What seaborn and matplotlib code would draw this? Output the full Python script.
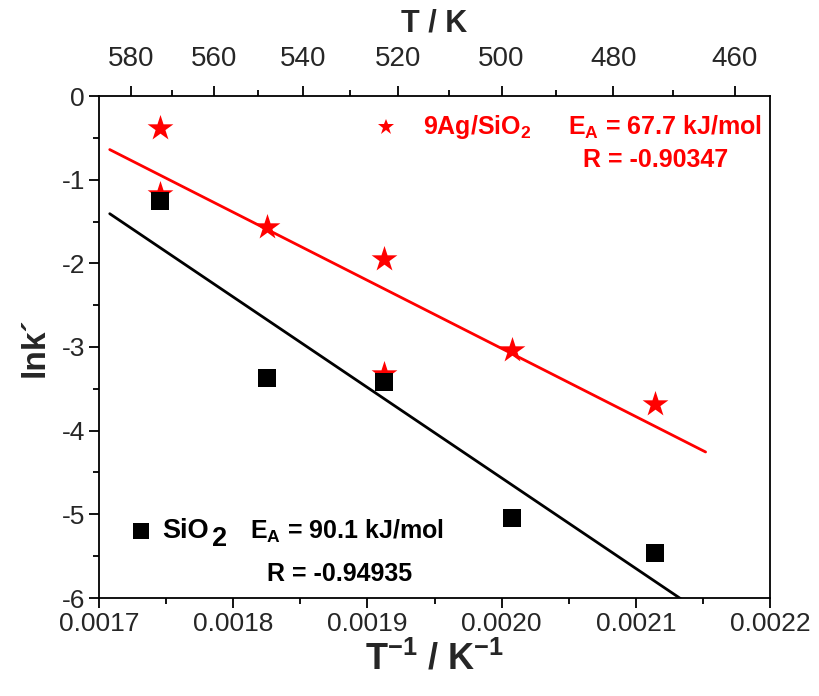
import numpy as np
import pandas as pd
import matplotlib
matplotlib.use("Agg")
import matplotlib.pyplot as plt
import seaborn as sns
from matplotlib import font_manager

# ---- data ----
T_sio2 = [573, 548, 523, 498, 473]
lnk_sio2 = [-1.255, -3.37, -3.42, -5.04, -5.46]

T_ag = [573, 573, 548, 523, 523, 498, 473]
lnk_ag = [-0.38, -1.17, -1.57, -1.95, -3.32, -3.04, -3.68]

fit_range = [0.001708, 0.002152]

top_major_T = [580, 560, 540, 520, 500, 480, 460]
top_minor_T = [570, 550, 530, 510, 490, 470]

bottom_ticks = [0.0017, 0.0018, 0.0019, 0.0020, 0.0021, 0.0022]
bottom_labels = ["0.0017", "0.0018", "0.0019", "0.0020", "0.0021", "0.0022"]
y_ticks = [0, -1, -2, -3, -4, -5, -6]

Ea_ag_text = "67.7"
R_ag_text = "-0.90347"
Ea_sio2_text = "90.1"
R_sio2_text = "-0.94935"

# ---- style ----
sns.set_theme(style="white")
names = {f.name for f in font_manager.fontManager.ttflist}
narrow = "Liberation Sans Narrow" if "Liberation Sans Narrow" in names else "Liberation Sans"
plt.rcParams["font.family"] = ["Liberation Sans", "DejaVu Sans"]
plt.rcParams["mathtext.fontset"] = "custom"
plt.rcParams["mathtext.rm"] = "Liberation Sans:bold"
plt.rcParams["mathtext.bf"] = "Liberation Sans:bold"
plt.rcParams["mathtext.it"] = "Liberation Sans:bold"
plt.rcParams["mathtext.default"] = "bf"

df_s = pd.DataFrame({"x": 1.0 / np.array(T_sio2), "y": lnk_sio2})
df_a = pd.DataFrame({"x": 1.0 / np.array(T_ag), "y": lnk_ag})

fig = plt.figure(figsize=(8.2, 6.96), dpi=100)
ax = fig.add_axes([99 / 820, 1 - 598 / 696, 671 / 820, 502 / 696])

# fit lines
xr = np.array(fit_range)
for df, col in [(df_a, "#ff0000"), (df_s, "black")]:
    m, b = np.polyfit(df["x"], df["y"], 1)
    sns.lineplot(x=xr, y=m * xr + b, color=col, lw=2, ax=ax, zorder=2)

sns.scatterplot(data=df_a, x="x", y="y", marker="*", s=19.5 ** 2, color="#ff0000",
                edgecolor="#ff0000", linewidth=0, ax=ax, zorder=3)
sns.scatterplot(data=df_s, x="x", y="y", marker="s", s=13.5 ** 2, color="black",
                edgecolor="black", linewidth=0, ax=ax, zorder=4)

ax.set_xlim(0.0017, 0.0022)
ax.set_ylim(-6, 0)
ax.set_xticks(bottom_ticks)
ax.set_xticklabels(bottom_labels)
ax.set_xticks([0.00175, 0.00185, 0.00195, 0.00205, 0.00215], minor=True)
ax.set_yticks(y_ticks)
ax.set_yticklabels([str(v) if v == 0 else "-" + str(-v) for v in y_ticks])
ax.set_yticks(np.arange(-5.5, 0, 1.0), minor=True)

for sp in ax.spines.values():
    sp.set_color("black")
    sp.set_linewidth(1.3)

ax.tick_params(axis="both", which="major", direction="out", length=7, width=1.3,
               color="black", pad=3)
ax.tick_params(axis="both", which="minor", direction="out", length=4, width=1.3,
               color="black")
ax.tick_params(axis="x", which="major", pad=3)
ax.tick_params(bottom=True, left=True, which="both")
for lab in ax.get_xticklabels() + ax.get_yticklabels():
    lab.set_family(narrow)
    lab.set_fontsize(19)

ax.set_xlabel("T$^{-1}$ / K$^{-1}$", fontsize=26, fontweight="bold", labelpad=4)
ax.set_ylabel("lnk\u00b4", fontsize=24, fontweight="bold", labelpad=8)

# top axis
ax2 = ax.twiny()
ax2.set_xlim(ax.get_xlim())
ax2.set_xticks([1.0 / t for t in top_major_T])
ax2.set_xticklabels([str(t) for t in top_major_T])
ax2.set_xticks([1.0 / t for t in top_minor_T], minor=True)
ax2.tick_params(axis="x", which="major", direction="out", length=7, width=1.3,
                color="black", pad=10, top=True)
ax2.tick_params(axis="x", which="minor", direction="out", length=4, width=1.3,
                color="black", top=True)
for lab in ax2.get_xticklabels():
    lab.set_family(narrow)
    lab.set_fontsize(20)
ax2.set_xlabel("T / K", fontsize=22, fontweight="bold", labelpad=11)
for sp in ax2.spines.values():
    sp.set_visible(False)

# legends / annotations
red = "#ff0000"
ax.plot([0.4277], [0.938], marker="*", ms=12, color=red, mew=0, transform=ax.transAxes,
        clip_on=False)
ax.text(0.483, 0.938, "9Ag/SiO$_2$", color=red, fontsize=18, fontweight="bold",
        transform=ax.transAxes, va="center", ha="left")
ax.text(0.699, 0.938, "E$_A$ = " + Ea_ag_text + " kJ/mol", color=red, fontsize=18,
        fontweight="bold", transform=ax.transAxes, va="center", ha="left")
ax.text(0.829, 0.872, "R = " + R_ag_text, color=red, fontsize=18, fontweight="bold",
        transform=ax.transAxes, va="center", ha="center")

ax.plot([0.0626], [0.1335], marker="s", ms=12, color="black", mew=0,
        transform=ax.transAxes, clip_on=False)
ax.text(0.094, 0.1335, "SiO", color="black", fontsize=19.5, fontweight="bold",
        transform=ax.transAxes, va="center", ha="left")
ax.text(0.168, 0.118, "2", color="black", fontsize=19.5, fontweight="bold",
        transform=ax.transAxes, va="center", ha="left")
ax.text(0.225, 0.1335, "E$_A$ = " + Ea_sio2_text + " kJ/mol", color="black", fontsize=18,
        fontweight="bold", transform=ax.transAxes, va="center", ha="left")
ax.text(0.359, 0.048, "R = " + R_sio2_text, color="black", fontsize=18, fontweight="bold",
        transform=ax.transAxes, va="center", ha="center")

fig.savefig("out.png", dpi=100)
